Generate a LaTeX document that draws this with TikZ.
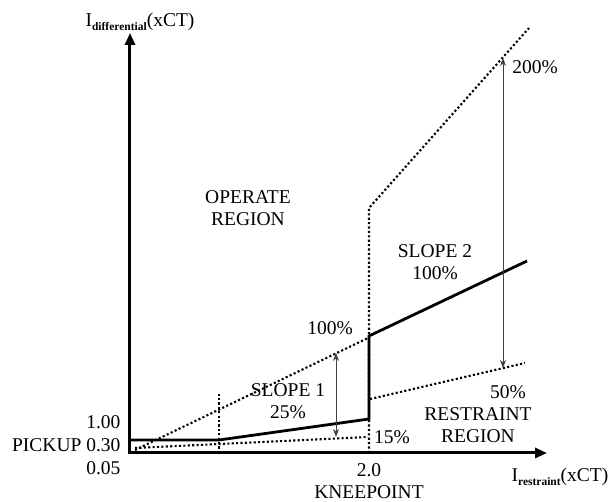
\documentclass[tikz,border=0pt]{standalone}
\usepackage{fontspec}
\setmainfont{Liberation Serif}
\usetikzlibrary{arrows.meta}

% small bold subscript for the axis names
\newcommand{\axsub}[1]{\raisebox{-3.5pt}{\fontsize{11.5}{12}\selectfont\textbf{#1}}}

\begin{document}
\begin{tikzpicture}[x=1pt, y=1pt]
    \tikzstyle{every node}=[align=center, font=\fontsize{19.5}{22}\selectfont]
    \tikzstyle{axis}=[line width=3pt, {Triangle[length=12pt,width=10pt]}-{Triangle[length=12pt,width=10pt]}]
    \tikzstyle{curve}=[line width=2.8pt]
    \tikzstyle{dots}=[line width=2.1pt, dash pattern=on 2.1pt off 2.3pt]
    \tikzstyle{span}=[line width=1pt, black!75, {Stealth[length=8pt,width=6pt]}-{Stealth[length=8pt,width=6pt]}]
    \useasboundingbox (-130,-49) rectangle (480,453);

    % axes
    \coordinate (o) at (0,0);
    \coordinate (ytip) at (0,420);
    \coordinate (xtip) at (417,0);
    \draw[axis] (ytip) -- (o) -- (xtip);

    % dotted slope lines
    \coordinate (b0) at (89,0);
    \coordinate (b1) at (89,61);
    \coordinate (k0) at (239,0);
    \coordinate (k1) at (239,245);
    \coordinate (k2) at (399,425);
    \coordinate (hia) at (5,3);
    \coordinate (hib) at (238,115);
    \coordinate (loa) at (5,5);
    \coordinate (lob) at (238,16);
    \coordinate (mida) at (240,54);
    \coordinate (midb) at (395,90);
    \draw[dots] (b0) -- (b1);
    \draw[dots] (k0) -- (k1) -- (k2);
    \draw[dots] (hia) -- (hib);
    \draw[dots] (loa) -- (lob);
    \draw[dots] (mida) -- (midb);

    % trip characteristic
    \coordinate (pick) at (0,13);
    \coordinate (brk) at (89,13);
    \coordinate (kneelo) at (239,34);
    \coordinate (kneehi) at (239,117);
    \coordinate (end2) at (397,192);
    \draw[curve] (pick) -- (brk) -- (kneelo) -- (kneehi) -- (end2);

    % slope spans
    \coordinate (s1lo) at (206,16);
    \coordinate (s1hi) at (206,100);
    \coordinate (s2lo) at (373,85);
    \coordinate (s2hi) at (373,395);
    \draw[span] (s1lo) -- (s1hi);
    \draw[span] (s2lo) -- (s2hi);

    % labels
    \node (ylab) at (10,431) {I\axsub{differential}(xCT)};
    \node (xlab) at (430,-24) {I\axsub{restraint}(xCT)};
    \node[anchor=east] (one) at (-6,31) {1.00};
    \node[anchor=east] (pickup) at (-6,8) {PICKUP 0.30};
    \node[anchor=east] (min) at (-6,-15) {0.05};
    \node (knee) at (239,-28) {2.0\\KNEEPOINT};
    \node (operate) at (118,245) {OPERATE\\REGION};
    \node (restrain) at (348,28) {RESTRAINT\\REGION};
    \node (slopeone) at (158,52) {SLOPE 1\\25\%};
    \node (slopetwo) at (305,191) {SLOPE 2\\100\%};
    \node (pcthi) at (200,125) {100\%};
    \node (pctlo) at (262,16) {15\%};
    \node (pcttop) at (405,386) {200\%};
    \node (pctmid) at (378,61) {50\%};
\end{tikzpicture}
\end{document}
